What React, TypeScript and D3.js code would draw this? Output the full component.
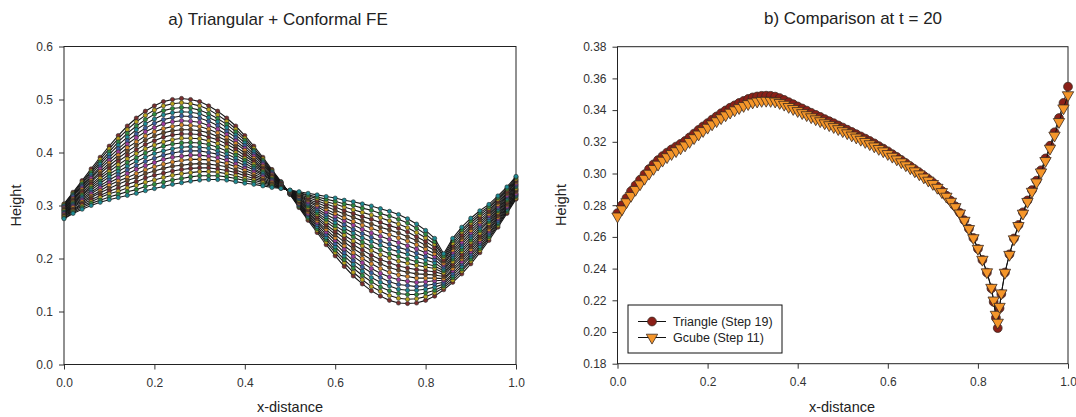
import React, { useRef, useEffect } from 'react';
import * as d3 from 'd3';

// ---- panel a) : Triangular + Conformal FE, one profile per time step ----
const leftX = [0, 0.02, 0.04, 0.06, 0.08, 0.1, 0.12, 0.14, 0.16, 0.18, 0.2, 0.22, 0.24, 0.26, 0.28, 0.3, 0.32, 0.34, 0.36, 0.38, 0.4, 0.42, 0.44, 0.46, 0.48, 0.5, 0.52, 0.54, 0.56, 0.58, 0.6, 0.62, 0.64, 0.66, 0.68, 0.7, 0.72, 0.74, 0.76, 0.78, 0.8, 0.82, 0.84, 0.86, 0.88, 0.9, 0.92, 0.94, 0.96, 0.98, 1.0];

const step00 = [0.303, 0.325, 0.347, 0.369, 0.391, 0.412, 0.432, 0.450, 0.465, 0.478, 0.488, 0.496, 0.500, 0.502, 0.500, 0.496, 0.488, 0.478, 0.465, 0.450, 0.432, 0.412, 0.391, 0.368, 0.345, 0.321, 0.296, 0.272, 0.249, 0.226, 0.205, 0.185, 0.167, 0.152, 0.139, 0.129, 0.121, 0.116, 0.115, 0.116, 0.121, 0.129, 0.141, 0.155, 0.171, 0.190, 0.211, 0.234, 0.259, 0.285, 0.312];
const step01 = [0.302, 0.323, 0.344, 0.365, 0.387, 0.407, 0.426, 0.443, 0.458, 0.470, 0.480, 0.488, 0.492, 0.494, 0.492, 0.488, 0.481, 0.471, 0.459, 0.444, 0.427, 0.408, 0.388, 0.366, 0.344, 0.321, 0.298, 0.275, 0.253, 0.231, 0.211, 0.192, 0.174, 0.160, 0.147, 0.138, 0.130, 0.125, 0.123, 0.124, 0.128, 0.135, 0.145, 0.159, 0.176, 0.195, 0.215, 0.238, 0.262, 0.288, 0.314];
const step02 = [0.300, 0.321, 0.341, 0.362, 0.382, 0.401, 0.420, 0.436, 0.450, 0.462, 0.472, 0.479, 0.483, 0.485, 0.484, 0.480, 0.473, 0.464, 0.453, 0.439, 0.423, 0.404, 0.385, 0.364, 0.344, 0.322, 0.299, 0.277, 0.256, 0.236, 0.216, 0.198, 0.182, 0.168, 0.156, 0.146, 0.139, 0.134, 0.132, 0.132, 0.135, 0.140, 0.148, 0.164, 0.180, 0.199, 0.219, 0.241, 0.265, 0.290, 0.317];
const step03 = [0.299, 0.319, 0.338, 0.358, 0.378, 0.396, 0.414, 0.429, 0.443, 0.454, 0.463, 0.471, 0.475, 0.477, 0.476, 0.473, 0.466, 0.458, 0.447, 0.433, 0.418, 0.401, 0.382, 0.363, 0.343, 0.322, 0.301, 0.280, 0.260, 0.240, 0.222, 0.205, 0.189, 0.176, 0.164, 0.155, 0.148, 0.142, 0.140, 0.140, 0.142, 0.146, 0.152, 0.168, 0.185, 0.204, 0.223, 0.245, 0.268, 0.293, 0.319];
const step04 = [0.297, 0.317, 0.336, 0.354, 0.373, 0.391, 0.407, 0.422, 0.435, 0.446, 0.455, 0.462, 0.466, 0.469, 0.468, 0.465, 0.459, 0.451, 0.440, 0.428, 0.413, 0.397, 0.380, 0.361, 0.342, 0.323, 0.302, 0.283, 0.264, 0.245, 0.228, 0.211, 0.196, 0.184, 0.173, 0.164, 0.156, 0.151, 0.149, 0.147, 0.149, 0.152, 0.155, 0.172, 0.190, 0.208, 0.228, 0.248, 0.271, 0.296, 0.321];
const step05 = [0.296, 0.314, 0.333, 0.351, 0.369, 0.385, 0.401, 0.416, 0.428, 0.439, 0.447, 0.454, 0.458, 0.460, 0.459, 0.457, 0.451, 0.444, 0.434, 0.422, 0.408, 0.393, 0.377, 0.359, 0.342, 0.323, 0.304, 0.285, 0.268, 0.250, 0.234, 0.218, 0.204, 0.192, 0.181, 0.172, 0.165, 0.160, 0.157, 0.155, 0.156, 0.158, 0.159, 0.177, 0.194, 0.213, 0.232, 0.252, 0.275, 0.298, 0.323];
const step06 = [0.294, 0.312, 0.330, 0.347, 0.364, 0.380, 0.395, 0.409, 0.420, 0.431, 0.439, 0.445, 0.449, 0.452, 0.451, 0.449, 0.444, 0.437, 0.428, 0.417, 0.404, 0.389, 0.374, 0.357, 0.341, 0.324, 0.305, 0.288, 0.271, 0.255, 0.239, 0.224, 0.211, 0.200, 0.190, 0.181, 0.174, 0.169, 0.166, 0.163, 0.163, 0.163, 0.162, 0.181, 0.199, 0.217, 0.236, 0.255, 0.278, 0.301, 0.326];
const step07 = [0.293, 0.310, 0.327, 0.344, 0.360, 0.375, 0.389, 0.402, 0.413, 0.423, 0.431, 0.437, 0.441, 0.443, 0.443, 0.441, 0.437, 0.430, 0.422, 0.411, 0.399, 0.385, 0.371, 0.355, 0.340, 0.324, 0.307, 0.291, 0.275, 0.260, 0.245, 0.231, 0.219, 0.208, 0.198, 0.190, 0.183, 0.178, 0.174, 0.171, 0.170, 0.169, 0.166, 0.186, 0.203, 0.222, 0.240, 0.259, 0.281, 0.303, 0.328];
const step08 = [0.291, 0.308, 0.324, 0.340, 0.355, 0.369, 0.383, 0.395, 0.405, 0.415, 0.422, 0.429, 0.433, 0.435, 0.435, 0.434, 0.429, 0.424, 0.416, 0.406, 0.394, 0.382, 0.368, 0.354, 0.340, 0.324, 0.309, 0.293, 0.279, 0.264, 0.251, 0.238, 0.226, 0.216, 0.206, 0.198, 0.192, 0.186, 0.182, 0.179, 0.177, 0.175, 0.170, 0.190, 0.208, 0.226, 0.244, 0.263, 0.284, 0.306, 0.330];
const step09 = [0.290, 0.306, 0.321, 0.336, 0.351, 0.364, 0.377, 0.388, 0.398, 0.407, 0.414, 0.420, 0.424, 0.427, 0.427, 0.426, 0.422, 0.417, 0.410, 0.400, 0.389, 0.378, 0.365, 0.352, 0.339, 0.325, 0.310, 0.296, 0.283, 0.269, 0.257, 0.244, 0.233, 0.224, 0.215, 0.207, 0.201, 0.195, 0.191, 0.187, 0.184, 0.181, 0.173, 0.194, 0.213, 0.231, 0.248, 0.266, 0.287, 0.309, 0.332];
const step10 = [0.288, 0.304, 0.319, 0.333, 0.346, 0.359, 0.370, 0.381, 0.390, 0.399, 0.406, 0.412, 0.416, 0.418, 0.419, 0.418, 0.415, 0.410, 0.403, 0.395, 0.385, 0.374, 0.363, 0.350, 0.338, 0.325, 0.312, 0.299, 0.286, 0.274, 0.262, 0.251, 0.241, 0.231, 0.223, 0.216, 0.209, 0.204, 0.199, 0.194, 0.190, 0.186, 0.177, 0.199, 0.217, 0.235, 0.253, 0.270, 0.290, 0.311, 0.335];
const step11 = [0.287, 0.302, 0.316, 0.329, 0.342, 0.354, 0.364, 0.374, 0.383, 0.391, 0.398, 0.403, 0.407, 0.410, 0.411, 0.410, 0.408, 0.403, 0.397, 0.389, 0.380, 0.370, 0.360, 0.348, 0.337, 0.326, 0.313, 0.302, 0.290, 0.279, 0.268, 0.257, 0.248, 0.239, 0.232, 0.225, 0.218, 0.213, 0.208, 0.202, 0.197, 0.192, 0.180, 0.203, 0.222, 0.240, 0.257, 0.273, 0.293, 0.314, 0.337];
const step12 = [0.285, 0.300, 0.313, 0.325, 0.337, 0.348, 0.358, 0.367, 0.375, 0.383, 0.389, 0.395, 0.399, 0.402, 0.403, 0.403, 0.400, 0.397, 0.391, 0.384, 0.375, 0.367, 0.357, 0.347, 0.337, 0.326, 0.315, 0.304, 0.294, 0.283, 0.274, 0.264, 0.255, 0.247, 0.240, 0.233, 0.227, 0.221, 0.216, 0.210, 0.204, 0.198, 0.184, 0.207, 0.227, 0.244, 0.261, 0.277, 0.296, 0.317, 0.339];
const step13 = [0.284, 0.298, 0.310, 0.322, 0.333, 0.343, 0.352, 0.360, 0.368, 0.375, 0.381, 0.387, 0.391, 0.393, 0.395, 0.395, 0.393, 0.390, 0.385, 0.378, 0.370, 0.363, 0.354, 0.345, 0.336, 0.326, 0.317, 0.307, 0.298, 0.288, 0.280, 0.271, 0.263, 0.255, 0.248, 0.242, 0.236, 0.230, 0.224, 0.218, 0.211, 0.204, 0.188, 0.212, 0.231, 0.249, 0.265, 0.281, 0.299, 0.319, 0.341];
const step14 = [0.282, 0.296, 0.307, 0.318, 0.328, 0.338, 0.346, 0.353, 0.360, 0.367, 0.373, 0.378, 0.382, 0.385, 0.387, 0.387, 0.386, 0.383, 0.379, 0.373, 0.366, 0.359, 0.351, 0.343, 0.335, 0.327, 0.318, 0.310, 0.301, 0.293, 0.285, 0.277, 0.270, 0.263, 0.257, 0.251, 0.245, 0.239, 0.233, 0.226, 0.218, 0.209, 0.191, 0.216, 0.236, 0.253, 0.269, 0.284, 0.302, 0.322, 0.344];
const step15 = [0.281, 0.293, 0.304, 0.315, 0.324, 0.332, 0.340, 0.347, 0.353, 0.360, 0.365, 0.370, 0.374, 0.376, 0.378, 0.379, 0.378, 0.376, 0.373, 0.367, 0.361, 0.355, 0.348, 0.341, 0.335, 0.327, 0.320, 0.312, 0.305, 0.298, 0.291, 0.284, 0.278, 0.271, 0.265, 0.259, 0.254, 0.248, 0.241, 0.234, 0.225, 0.215, 0.195, 0.221, 0.240, 0.258, 0.273, 0.288, 0.306, 0.324, 0.346];
const step16 = [0.279, 0.291, 0.302, 0.311, 0.319, 0.327, 0.333, 0.340, 0.345, 0.352, 0.357, 0.361, 0.365, 0.368, 0.370, 0.371, 0.371, 0.369, 0.366, 0.362, 0.356, 0.351, 0.346, 0.339, 0.334, 0.328, 0.321, 0.315, 0.309, 0.303, 0.297, 0.290, 0.285, 0.279, 0.274, 0.268, 0.262, 0.257, 0.250, 0.241, 0.232, 0.221, 0.198, 0.225, 0.245, 0.262, 0.278, 0.291, 0.309, 0.327, 0.348];
const step17 = [0.278, 0.289, 0.299, 0.307, 0.315, 0.322, 0.327, 0.333, 0.338, 0.344, 0.348, 0.353, 0.357, 0.360, 0.362, 0.364, 0.364, 0.363, 0.360, 0.356, 0.351, 0.348, 0.343, 0.338, 0.333, 0.328, 0.323, 0.318, 0.313, 0.307, 0.303, 0.297, 0.292, 0.287, 0.282, 0.277, 0.271, 0.265, 0.258, 0.249, 0.239, 0.227, 0.202, 0.229, 0.250, 0.267, 0.282, 0.295, 0.312, 0.330, 0.350];
const step18 = [0.276, 0.287, 0.296, 0.304, 0.310, 0.316, 0.321, 0.326, 0.330, 0.336, 0.340, 0.344, 0.348, 0.351, 0.354, 0.356, 0.356, 0.356, 0.354, 0.351, 0.347, 0.344, 0.340, 0.336, 0.333, 0.329, 0.324, 0.320, 0.316, 0.312, 0.308, 0.303, 0.300, 0.295, 0.291, 0.285, 0.280, 0.274, 0.267, 0.257, 0.246, 0.232, 0.205, 0.234, 0.254, 0.271, 0.286, 0.298, 0.315, 0.332, 0.353];
const step19 = [0.275, 0.285, 0.293, 0.300, 0.306, 0.311, 0.315, 0.319, 0.323, 0.328, 0.332, 0.336, 0.340, 0.343, 0.346, 0.348, 0.349, 0.349, 0.348, 0.345, 0.342, 0.340, 0.337, 0.334, 0.332, 0.329, 0.326, 0.323, 0.320, 0.317, 0.314, 0.310, 0.307, 0.303, 0.299, 0.294, 0.289, 0.283, 0.275, 0.265, 0.253, 0.238, 0.209, 0.238, 0.259, 0.276, 0.290, 0.302, 0.318, 0.335, 0.355];

const leftSteps = [step00, step01, step02, step03, step04, step05, step06, step07, step08, step09,
  step10, step11, step12, step13, step14, step15, step16, step17, step18, step19];

// ---- panel b) : comparison at t = 20 ----
const compareX = [0, 0.01, 0.02, 0.03, 0.04, 0.05, 0.06, 0.07, 0.08, 0.09, 0.1, 0.11, 0.12, 0.13, 0.14, 0.15, 0.16, 0.17, 0.18, 0.19, 0.2, 0.21, 0.22, 0.23, 0.24, 0.25, 0.26, 0.27, 0.28, 0.29, 0.3, 0.31, 0.32, 0.33, 0.34, 0.35, 0.36, 0.37, 0.38, 0.39, 0.4, 0.41, 0.42, 0.43, 0.44, 0.45, 0.46, 0.47, 0.48, 0.49, 0.5, 0.51, 0.52, 0.53, 0.54, 0.55, 0.56, 0.57, 0.58, 0.59, 0.6, 0.61, 0.62, 0.63, 0.64, 0.65, 0.66, 0.67, 0.68, 0.69, 0.7, 0.71, 0.72, 0.73, 0.74, 0.75, 0.76, 0.77, 0.78, 0.79, 0.8, 0.81, 0.82, 0.83, 0.835, 0.84, 0.844, 0.848, 0.852, 0.86, 0.87, 0.88, 0.89, 0.9, 0.91, 0.92, 0.93, 0.94, 0.95, 0.96, 0.97, 0.98, 0.99, 1.0];

const triangleStep19 = [0.2750, 0.2800, 0.2845, 0.2888, 0.2925, 0.2960, 0.2995, 0.3028, 0.3058, 0.3085, 0.3110, 0.3132, 0.3152, 0.3170, 0.3187, 0.3205, 0.3228, 0.3252, 0.3275, 0.3297, 0.3318, 0.3340, 0.3360, 0.3380, 0.3398, 0.3415, 0.3430, 0.3445, 0.3458, 0.3470, 0.3480, 0.3486, 0.3490, 0.3491, 0.3490, 0.3485, 0.3476, 0.3464, 0.3450, 0.3437, 0.3423, 0.3410, 0.3397, 0.3383, 0.3370, 0.3357, 0.3343, 0.3330, 0.3317, 0.3303, 0.3290, 0.3276, 0.3262, 0.3248, 0.3234, 0.3220, 0.3205, 0.3190, 0.3173, 0.3157, 0.3140, 0.3122, 0.3104, 0.3085, 0.3065, 0.3045, 0.3025, 0.3005, 0.2985, 0.2965, 0.2943, 0.2918, 0.2890, 0.2860, 0.2828, 0.2793, 0.2752, 0.2705, 0.2652, 0.2593, 0.2525, 0.2455, 0.2375, 0.2275, 0.2190, 0.2090, 0.2025, 0.2150, 0.2240, 0.2375, 0.2490, 0.2590, 0.2675, 0.2755, 0.2830, 0.2895, 0.2955, 0.3020, 0.3095, 0.3175, 0.3260, 0.3350, 0.3445, 0.3548];

const gcubeStep11 = [0.2730, 0.2775, 0.2820, 0.2860, 0.2898, 0.2933, 0.2968, 0.3000, 0.3030, 0.3057, 0.3082, 0.3104, 0.3124, 0.3142, 0.3160, 0.3178, 0.3200, 0.3224, 0.3247, 0.3269, 0.3290, 0.3311, 0.3331, 0.3350, 0.3368, 0.3385, 0.3400, 0.3414, 0.3427, 0.3439, 0.3449, 0.3455, 0.3459, 0.3460, 0.3459, 0.3455, 0.3446, 0.3435, 0.3421, 0.3408, 0.3395, 0.3382, 0.3369, 0.3356, 0.3343, 0.3331, 0.3318, 0.3306, 0.3294, 0.3281, 0.3268, 0.3255, 0.3241, 0.3228, 0.3214, 0.3200, 0.3186, 0.3172, 0.3156, 0.3141, 0.3124, 0.3107, 0.3090, 0.3072, 0.3053, 0.3034, 0.3015, 0.2996, 0.2976, 0.2956, 0.2935, 0.2911, 0.2884, 0.2855, 0.2823, 0.2789, 0.2749, 0.2703, 0.2651, 0.2593, 0.2526, 0.2457, 0.2378, 0.2280, 0.2200, 0.2110, 0.2060, 0.2160, 0.2245, 0.2375, 0.2488, 0.2586, 0.2670, 0.2748, 0.2822, 0.2886, 0.2945, 0.3008, 0.3080, 0.3158, 0.3240, 0.3326, 0.3412, 0.3495];

const xTicks = [0, 0.2, 0.4, 0.6, 0.8, 1.0];
const leftYTicks = [0, 0.1, 0.2, 0.3, 0.4, 0.5, 0.6];
const rightYTicks = [0.18, 0.2, 0.22, 0.24, 0.26, 0.28, 0.3, 0.32, 0.34, 0.36, 0.38];

const stepColors = ['#7b2e2e', '#b8a21c', '#2e8b3e', '#1d8a93', '#3a5fa0', '#a03c9e', '#d6862a', '#6b4a2a'];
const FONT = '"Liberation Sans", Arial, Helvetica, sans-serif';

const App = () => {
  const ref = useRef<SVGSVGElement>(null);

  useEffect(() => {
    const svg = d3.select(ref.current);
    svg.selectAll('*').remove();
    svg.attr('font-family', FONT);

    const drawAxes = (x: any, y: any, yTicks: number[], yFmt: string) => {
      const [x0, x1] = x.range();
      const [y0, y1] = y.range();
      const g = svg.append('g');
      const gx = g.append('g').attr('transform', `translate(0,${y0})`)
        .call(d3.axisBottom(x).tickValues(xTicks).tickFormat(d3.format('.1f')).tickSize(5).tickSizeOuter(0).tickPadding(9));
      const gy = g.append('g').attr('transform', `translate(${x0},0)`)
        .call(d3.axisLeft(y).tickValues(yTicks).tickFormat(d3.format(yFmt)).tickSize(5).tickSizeOuter(0).tickPadding(6));
      [gx, gy].forEach(a => {
        a.select('.domain').remove();
        a.selectAll('line').attr('stroke', '#333');
        a.selectAll('text').attr('font-size', 12).attr('fill', '#333').attr('font-family', FONT);
      });
      g.append('rect')
        .attr('x', x0).attr('y', y1).attr('width', x1 - x0).attr('height', y0 - y1)
        .attr('fill', 'none').attr('stroke', '#222').attr('stroke-width', 1);
    };

    // ---------- panel a ----------
    const lx = d3.scaleLinear().domain([0, 1]).range([64, 516]);
    const ly = d3.scaleLinear().domain([0, 0.6]).range([364.5, 46.5]);
    drawAxes(lx, ly, leftYTicks, '.1f');

    const lineA = d3.line<number>().x((_, i) => lx(leftX[i])).y(d => ly(d));
    const ga = svg.append('g');
    leftSteps.forEach((vals, k) => {
      ga.append('path').attr('d', lineA(vals)).attr('fill', 'none')
        .attr('stroke', '#151515').attr('stroke-width', 1.1);
      ga.selectAll(null).data(vals).enter().append('circle')
        .attr('cx', (_, i) => lx(leftX[i])).attr('cy', d => ly(d)).attr('r', 2.1)
        .attr('fill', stepColors[k % stepColors.length]).attr('stroke', '#2a2a2a').attr('stroke-width', 0.6);
    });

    svg.append('text').attr('x', 278).attr('y', 25).attr('text-anchor', 'middle')
      .attr('font-size', 17).attr('fill', '#222').text('a) Triangular + Conformal FE');
    svg.append('text').attr('transform', 'translate(21,205.5) rotate(-90)').attr('text-anchor', 'middle')
      .attr('font-size', 14.5).attr('fill', '#222').text('Height');
    svg.append('text').attr('x', 290).attr('y', 412).attr('text-anchor', 'middle')
      .attr('font-size', 14.5).attr('fill', '#222').text('x-distance');

    // ---------- panel b ----------
    const rx = d3.scaleLinear().domain([0, 1]).range([617.5, 1068]);
    const ry = d3.scaleLinear().domain([0.18, 0.38]).range([363.7, 46.7]);
    drawAxes(rx, ry, rightYTicks, '.2f');

    const lineB = d3.line<number>().x((_, i) => rx(compareX[i])).y(d => ry(d));
    const gb = svg.append('g');
    gb.append('path').attr('d', lineB(triangleStep19)).attr('fill', 'none').attr('stroke', '#111').attr('stroke-width', 1);
    gb.selectAll(null).data(triangleStep19).enter().append('circle')
      .attr('cx', (_, i) => rx(compareX[i])).attr('cy', d => ry(d)).attr('r', 4.4)
      .attr('fill', '#8b2018').attr('stroke', '#3a2a22').attr('stroke-width', 0.8);
    gb.append('path').attr('d', lineB(gcubeStep11)).attr('fill', 'none').attr('stroke', '#111').attr('stroke-width', 1);
    const tri = d3.symbol().type(d3.symbolTriangle).size(56);
    gb.selectAll(null).data(gcubeStep11).enter().append('path')
      .attr('d', tri())
      .attr('transform', (d, i) => `translate(${rx(compareX[i])},${ry(d)}) rotate(180)`)
      .attr('fill', '#f5962a').attr('stroke', '#3a2a22').attr('stroke-width', 0.8);

    svg.append('text').attr('x', 853).attr('y', 24).attr('text-anchor', 'middle')
      .attr('font-size', 17).attr('fill', '#222').text('b) Comparison at t = 20');
    svg.append('text').attr('transform', 'translate(566,205) rotate(-90)').attr('text-anchor', 'middle')
      .attr('font-size', 14.5).attr('fill', '#222').text('Height');
    svg.append('text').attr('x', 842).attr('y', 412).attr('text-anchor', 'middle')
      .attr('font-size', 14.5).attr('fill', '#222').text('x-distance');

    // legend
    const lg = svg.append('g');
    lg.append('rect').attr('x', 628).attr('y', 305).attr('width', 154).attr('height', 48)
      .attr('fill', '#fff').attr('stroke', '#111').attr('stroke-width', 1);
    const rows = [
      { label: 'Triangle (Step 19)', kind: 'circle', y: 321.5 },
      { label: 'Gcube (Step 11)', kind: 'tri', y: 337.5 },
    ];
    rows.forEach(r => {
      lg.append('line').attr('x1', 638).attr('x2', 666).attr('y1', r.y).attr('y2', r.y)
        .attr('stroke', '#111').attr('stroke-width', 1);
      if (r.kind === 'circle') {
        lg.append('circle').attr('cx', 652).attr('cy', r.y).attr('r', 4.4)
          .attr('fill', '#8b2018').attr('stroke', '#3a2a22').attr('stroke-width', 0.8);
      } else {
        lg.append('path').attr('d', tri()).attr('transform', `translate(652,${r.y}) rotate(180)`)
          .attr('fill', '#f5962a').attr('stroke', '#3a2a22').attr('stroke-width', 0.8);
      }
      lg.append('text').attr('x', 673).attr('y', r.y).attr('dy', '0.35em')
        .attr('font-size', 12.5).attr('fill', '#222').text(r.label);
    });
  }, []);

  return (
    <svg ref={ref} width={1076} height={417}
      style={{ position: 'absolute', left: 0, top: 0, background: '#fff' }} />
  );
};

export default App;
